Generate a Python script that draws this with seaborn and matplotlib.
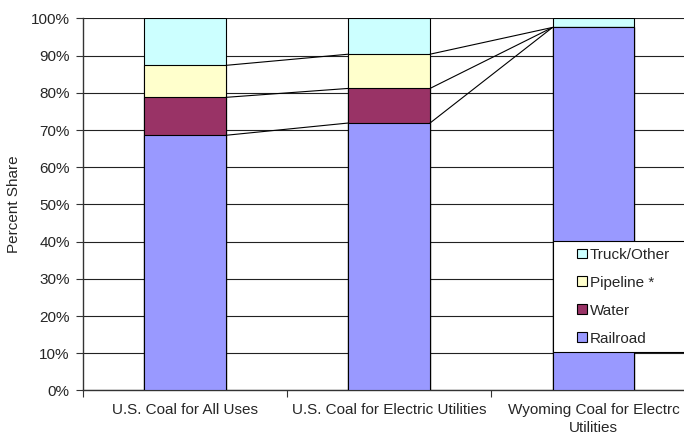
import numpy as np
import pandas as pd
import matplotlib
matplotlib.use("Agg")
import matplotlib.pyplot as plt
from matplotlib.patches import Rectangle
from matplotlib.legend_handler import HandlerPatch
import seaborn as sns

# ---- data (percent share) ----
categories = ["U.S. Coal for All Uses", "U.S. Coal for Electric Utilities",
              "Wyoming Coal for Electrc\nUtilities"]
railroad = [68.6, 71.9, 97.6]
water = [10.2, 9.3, 0.0]
pipeline = [8.6, 9.2, 0.0]
truck_other = [12.6, 9.6, 2.4]
series_names = ["Railroad", "Water", "Pipeline *", "Truck/Other"]
series_colors = ["#9999FF", "#993366", "#FFFFCC", "#CCFFFF"]
ytick_values = list(range(0, 101, 10))

sns.set_style("white")
plt.rcParams["font.family"] = ["Liberation Sans", "DejaVu Sans"]
plt.rcParams["font.size"] = 11

fig = plt.figure(figsize=(6.84, 4.38), dpi=100)
ax = fig.add_axes([0.1212, 0.1085, 0.8956, 0.8493])

layers = [railroad, water, pipeline, truck_other]
cum = np.cumsum(np.array(layers), axis=0)  # cumulative tops per layer
bar_width = 0.4

# draw from the top layer down so lower layers overlay
for i in range(len(layers) - 1, -1, -1):
    df = pd.DataFrame({"cat": categories, "val": cum[i]})
    sns.barplot(data=df, x="cat", y="val", order=categories, color=series_colors[i],
                saturation=1, width=bar_width, edgecolor="black", linewidth=0.8,
                errorbar=None, ax=ax, zorder=3)

# connector lines between adjacent bars at each stack boundary
for j in range(len(categories) - 1):
    for i in range(len(layers) - 1):
        ax.plot([j + bar_width / 2, j + 1 - bar_width / 2], [cum[i][j], cum[i][j + 1]],
                color="black", lw=0.8, zorder=4)

ax.set_xlim(-0.5, len(categories) - 0.5)
ax.set_ylim(0, 100)
ax.set_yticks(ytick_values)
ax.set_yticklabels([f"{v}%" for v in ytick_values])
ax.yaxis.grid(True, color="#222222", lw=0.8, zorder=0)
ax.set_axisbelow(True)
ax.tick_params(axis="y", length=5, width=0.8, pad=4.5, color="#333333", left=True)
ax.set_xticks(range(len(categories)))
ax.set_xticklabels(categories, linespacing=1.4)
ax.set_xticks([k + 0.5 for k in range(-1, len(categories))], minor=True)
ax.tick_params(axis="x", which="major", length=0, pad=9)
ax.tick_params(axis="x", which="minor", length=5, width=0.8, color="#333333", bottom=True)
ax.set_xlabel("")
ax.set_ylabel("Percent Share", labelpad=7)

for s in ["left", "bottom"]:
    ax.spines[s].set_color("#333333")
    ax.spines[s].set_linewidth(1.0)
ax.spines["top"].set_visible(False)
ax.spines["right"].set_visible(False)


def square_patch(legend, orig_handle, xdescent, ydescent, width, height, fontsize):
    s = 0.65 * fontsize
    return Rectangle((-xdescent + width - s, -ydescent + (height - s) / 2), s, s)


handles = [Rectangle((0, 0), 1, 1, facecolor=series_colors[i], edgecolor="black", lw=0.8)
           for i in range(len(series_names) - 1, -1, -1)]
labels = [series_names[i] for i in range(len(series_names) - 1, -1, -1)]
x0 = 553 / 684
y_top = 1 - 241 / 438
h = 111 / 438
leg = fig.legend(handles, labels, loc="upper left",
                 bbox_to_anchor=(x0, y_top - h, 0.26, h), bbox_transform=fig.transFigure,
                 mode="expand", borderaxespad=0, borderpad=0.45, handlelength=1.8,
                 handleheight=0.7, handletextpad=0.15, labelspacing=0.91,
                 fancybox=False, framealpha=1, edgecolor="black", fontsize=11,
                 handler_map={Rectangle: HandlerPatch(patch_func=square_patch)})
leg.get_frame().set_linewidth(0.8)

fig.savefig("out.png", dpi=100)
